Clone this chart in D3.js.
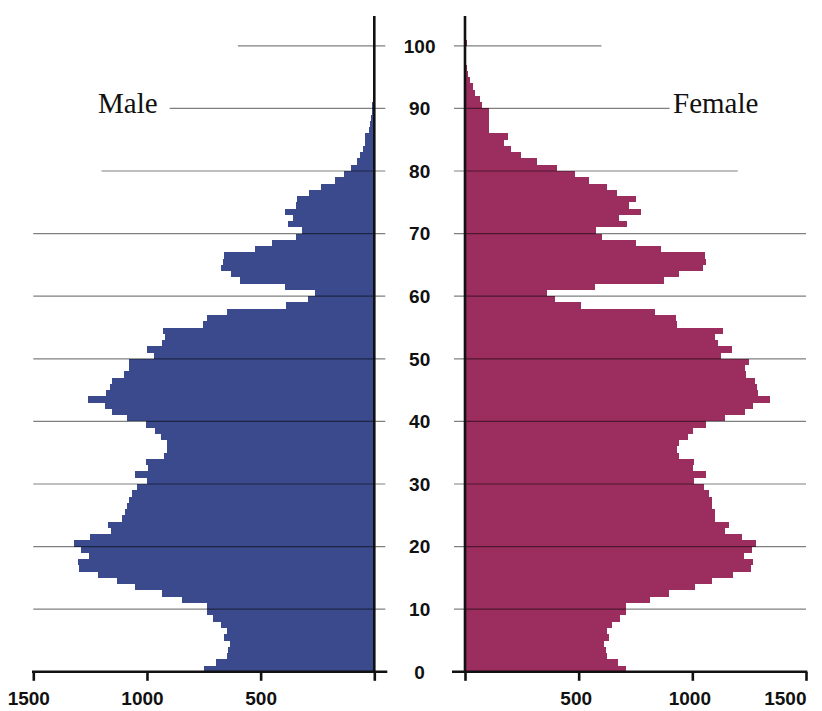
<!DOCTYPE html>
<html>
<head>
<meta charset="utf-8">
<script src="https://cdn.jsdelivr.net/npm/d3@7"></script>
<style>
  body { margin: 0; background: #fff; }
  svg { display: block; }
</style>
</head>
<body>
<div id="pyramid"></div>
<script>
// population by single year of age, 0..100 (thousands)
var ages = d3.range(0, 101);

var male = [748, 698, 650, 644, 635, 660, 647, 675, 708, 736,
            736, 848, 933, 1053, 1131, 1217, 1299, 1305, 1255, 1291,
            1321, 1252, 1160, 1172, 1109, 1097, 1087, 1081, 1066, 1043,
            1002, 1051, 996, 1006, 924, 912, 912, 940, 963, 1006,
            1087, 1156, 1183, 1261, 1181, 1163, 1154, 1100, 1081, 1081,
            968, 1000, 934, 922, 928, 755, 736, 647, 387, 290,
            260, 394, 591, 631, 676, 667, 660, 526, 451, 343,
            320, 381, 356, 395, 346, 338, 289, 236, 172, 134,
            103, 78, 61, 50, 40, 40, 22, 19, 16, 12,
            10, 7, 4, 2, 1, 0, 0, 0, 0, 0, 0];

var female = [710, 672, 626, 622, 611, 635, 623, 648, 683, 707,
              707, 815, 897, 1013, 1088, 1179, 1257, 1268, 1227, 1263,
              1282, 1220, 1142, 1160, 1098, 1100, 1087, 1085, 1073, 1051,
              1009, 1060, 1002, 1009, 941, 933, 940, 981, 1003, 1060,
              1144, 1233, 1267, 1342, 1289, 1283, 1277, 1238, 1230, 1248,
              1125, 1176, 1115, 1098, 1135, 933, 927, 837, 512, 394,
              362, 572, 876, 941, 1049, 1062, 1054, 864, 754, 601,
              578, 714, 676, 776, 722, 751, 669, 626, 546, 485,
              405, 318, 246, 203, 172, 187, 107, 107, 107, 107,
              74, 66, 44, 37, 22, 15, 10, 6, 3, 2, 10];

var ageTicks = [0, 10, 20, 30, 40, 50, 60, 70, 80, 90, 100];
// how far each age gridline reaches out on both sides (thousands)
var gridReach = [1500, 1500, 1500, 1500, 1500, 1500, 1500, 1500, 1200, 900, 600];
var popTicks = [0, 500, 1000, 1500];

var width = 822, height = 711;

var svg = d3.select("#pyramid")
  .append("svg")
    .attr("width", width)
    .attr("height", height);

// scales
var xMale = d3.scaleLinear().domain([0, 1500]).range([374.3, 33.3]);
var xFemale = d3.scaleLinear().domain([0, 1500]).range([465, 806]);
var y = d3.scaleLinear().domain([0, 100]).range([671.8, 45.8]);
var overhang = 11;

// bars
svg.append("g")
  .selectAll("rect")
  .data(ages)
  .enter()
  .append("rect")
    .attr("x", function(d) { return xMale(male[d]); })
    .attr("y", function(d) { return y(d + 1); })
    .attr("width", function(d) { return xMale(0) - xMale(male[d]); })
    .attr("height", function(d) { return y(d) - y(d + 1); })
    .attr("shape-rendering", "crispEdges")
    .style("fill", "#3a4a8c");

svg.append("g")
  .selectAll("rect")
  .data(ages)
  .enter()
  .append("rect")
    .attr("x", xFemale(0))
    .attr("y", function(d) { return y(d + 1); })
    .attr("width", function(d) { return xFemale(female[d]) - xFemale(0); })
    .attr("height", function(d) { return y(d) - y(d + 1); })
    .attr("shape-rendering", "crispEdges")
    .style("fill", "#9b2e5e");

// age gridlines, drawn over the bars
var grid = svg.append("g");
ageTicks.forEach(function(a, i) {
  if (a === 0) return;
  grid.append("line")
    .attr("x1", xMale(gridReach[i])).attr("x2", xMale(0) + overhang)
    .attr("y1", y(a)).attr("y2", y(a))
    .style("stroke", "#000").style("stroke-opacity", 0.5).style("stroke-width", 1.2);
  grid.append("line")
    .attr("x1", xFemale(0) - overhang).attr("x2", xFemale(gridReach[i]))
    .attr("y1", y(a)).attr("y2", y(a))
    .style("stroke", "#000").style("stroke-opacity", 0.5).style("stroke-width", 1.2);
});

// zero axes
[xMale(0), xFemale(0)].forEach(function(x0) {
  svg.append("line")
    .attr("x1", x0).attr("x2", x0)
    .attr("y1", 16).attr("y2", y(0))
    .style("stroke", "#111").style("stroke-width", 2.6);
});

// bottom axes
var axisLeft = d3.axisBottom(xMale)
  .tickValues(popTicks)
  .tickSize(9)
  .tickFormat(function(d) { return d === 0 ? "" : d; });
var axisRight = d3.axisBottom(xFemale)
  .tickValues(popTicks)
  .tickSize(9)
  .tickFormat(function(d) { return d === 0 ? "" : d; });

var gL = svg.append("g").attr("transform", "translate(0," + y(0) + ")").call(axisLeft);
var gR = svg.append("g").attr("transform", "translate(0," + y(0) + ")").call(axisRight);

[gL, gR].forEach(function(g) {
  g.select(".domain").remove();
  g.selectAll(".tick line").style("stroke", "#111").style("stroke-width", 2.6);
  g.selectAll(".tick text")
    .attr("y", 20)
    .style("font-family", "'Liberation Sans', Arial, sans-serif")
    .style("font-weight", "bold")
    .style("font-size", "19px")
    .style("fill", "#111");
});

// nudge labels the way the original sits them
gL.selectAll(".tick text").attr("dx", function(d) { return d === 500 ? 0 : -5; });
gR.selectAll(".tick text")
  .attr("dx", function(d) { return d === 1500 ? 0 : -3; })
  .attr("text-anchor", function(d) { return d === 1500 ? "end" : "middle"; });

svg.append("line")
  .attr("x1", xMale(1500) - 1.3).attr("x2", xMale(0) + overhang + 2)
  .attr("y1", y(0)).attr("y2", y(0))
  .style("stroke", "#111").style("stroke-width", 2.6);
svg.append("line")
  .attr("x1", xFemale(0) - overhang - 2).attr("x2", xFemale(1500) + 1.3)
  .attr("y1", y(0)).attr("y2", y(0))
  .style("stroke", "#111").style("stroke-width", 2.6);

// age labels in the middle
svg.append("g")
  .selectAll("text")
  .data(ageTicks)
  .enter()
  .append("text")
    .attr("x", (xMale(0) + xFemale(0)) / 2)
    .attr("y", function(d) { return y(d); })
    .attr("dy", "0.36em")
    .attr("text-anchor", "middle")
    .style("font-family", "'Liberation Sans', Arial, sans-serif")
    .style("font-weight", "bold")
    .style("font-size", "19px")
    .style("fill", "#111")
    .text(function(d) { return d; });

// sex labels
svg.append("text")
  .attr("x", 98).attr("y", 112.7)
  .style("font-family", "'Liberation Serif', 'Times New Roman', serif")
  .style("font-size", "29px")
  .style("fill", "#111")
  .text("Male");

svg.append("text")
  .attr("x", 673).attr("y", 112.7)
  .style("font-family", "'Liberation Serif', 'Times New Roman', serif")
  .style("font-size", "29px")
  .style("fill", "#111")
  .text("Female");
</script>
</body>
</html>
